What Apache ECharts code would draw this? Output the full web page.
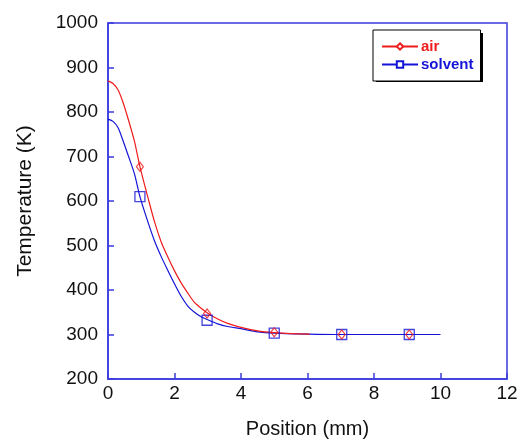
<!DOCTYPE html>
<html><head><meta charset="utf-8">
<script src="https://cdn.jsdelivr.net/npm/echarts@6/dist/echarts.min.js"></script>
<style>html,body{margin:0;padding:0;background:#fff}#c{width:525px;height:444px}</style>
</head><body><div id="c"></div>
<script>
const xTicks = [0, 2, 4, 6, 8, 10, 12];
const yTicks = [200, 300, 400, 500, 600, 700, 800, 900, 1000];

const airCurveX = [0, 0.15, 0.3, 0.45, 0.6, 0.8, 0.96, 1.2, 1.4, 1.6, 1.8, 2.0, 2.2, 2.4, 2.6, 2.8, 3.0, 3.3, 3.6, 4.0, 4.5, 5.0, 5.5, 6.07];
const airCurveY = [870, 864, 850, 822, 786, 733, 677, 608, 553, 508, 474, 443, 416, 393, 372, 359, 348, 335, 325, 316, 308, 304, 302, 301];

const solventCurveX = [0, 0.15, 0.3, 0.45, 0.6, 0.8, 0.96, 1.2, 1.4, 1.6, 1.8, 2.0, 2.2, 2.4, 2.6, 2.8, 3.0, 3.3, 3.6, 4.0, 4.5, 5.0, 6.0, 7.0, 8.0, 9.0, 10.0];
const solventCurveY = [784, 779, 765, 736, 704, 660, 610, 553, 510, 475, 444, 414, 386, 364, 350, 340, 333, 324, 318, 313, 306, 303, 301, 300, 300, 300, 300];

const markerX = [0.96, 2.98, 5, 7.03, 9.06];
const airMarkers = [677, 347, 305, 300, 300];
const solventMarkers = [610, 332, 303, 300, 300];

const FONT = 'Liberation Sans, Arial, sans-serif';
const AXIS_BLUE = '#3a3ae0';
const RED = '#ee1c1c';
const BLUE = '#1414d8';

const zip = (xs, ys) => xs.map((x, i) => [x, ys[i]]);

const chart = echarts.init(document.getElementById('c'));
chart.setOption({
  animation: false,
  backgroundColor: '#fff',
  grid: { left: 108, top: 23, right: 18, bottom: 64, show: true, borderColor: AXIS_BLUE, borderWidth: 1.5, backgroundColor: 'transparent' },
  graphic: [
    { type: 'rect', left: 376, top: 33, shape: { width: 107, height: 49 }, style: { fill: '#000' }, z: 100 }
  ],
  legend: {
    orient: 'vertical', left: 373, top: 30, z: 200,
    padding: [9, 7, 9, 8],
    itemWidth: 36, itemHeight: 8, itemGap: 3,
    backgroundColor: '#fff', borderColor: '#000', borderWidth: 1,
    textStyle: { fontFamily: FONT, fontSize: 15, fontWeight: 'bold', lineHeight: 14, padding: [0, 0, 0, -2] },
    data: [
      { name: 'air', textStyle: { color: RED } },
      { name: 'solvent', textStyle: { color: BLUE } }
    ]
  },
  xAxis: {
    type: 'value', min: xTicks[0], max: xTicks[xTicks.length - 1], interval: 2,
    name: 'Position (mm)', nameLocation: 'middle', nameGap: 40,
    nameTextStyle: { fontFamily: FONT, fontSize: 20, color: '#111' },
    axisLine: { show: true, lineStyle: { color: AXIS_BLUE, width: 1.5 } },
    axisTick: { show: true, inside: true, length: 6, lineStyle: { color: AXIS_BLUE, width: 1.5 } },
    axisLabel: { fontFamily: FONT, fontSize: 19, color: '#111', margin: 5, formatter: v => String(v) },
    splitLine: { show: false }
  },
  yAxis: {
    type: 'value', min: yTicks[0], max: yTicks[yTicks.length - 1], interval: 100,
    name: 'Temperature (K)', nameLocation: 'middle', nameGap: 72, nameRotate: 90,
    nameTextStyle: { fontFamily: FONT, fontSize: 21, color: '#111' },
    axisLine: { show: true, lineStyle: { color: AXIS_BLUE, width: 1.5 } },
    axisTick: { show: true, inside: true, length: 6, lineStyle: { color: AXIS_BLUE, width: 1.5 } },
    axisLabel: { fontFamily: FONT, fontSize: 19, color: '#111', margin: 10, formatter: v => String(v) },
    splitLine: { show: false }
  },
  series: [
    {
      name: 'air', type: 'line', data: zip(airCurveX, airCurveY), smooth: 0.25,
      symbol: 'emptyDiamond', showSymbol: false,
      lineStyle: { color: RED, width: 1.2 }, itemStyle: { color: RED }, z: 3
    },
    {
      name: 'solvent', type: 'line', data: zip(solventCurveX, solventCurveY), smooth: 0.25,
      symbol: 'emptyRect', showSymbol: false,
      lineStyle: { color: BLUE, width: 1.2 }, itemStyle: { color: BLUE }, z: 2
    },
    {
      name: 'airMarks', type: 'scatter', data: zip(markerX, airMarkers),
      symbol: 'diamond', symbolSize: [7, 9],
      itemStyle: { color: 'transparent', borderColor: RED, borderWidth: 1.2 }, z: 5
    },
    {
      name: 'solventMarks', type: 'scatter', data: zip(markerX, solventMarkers),
      symbol: 'rect', symbolSize: 10,
      itemStyle: { color: 'transparent', borderColor: BLUE, borderWidth: 1.3 }, z: 4
    }
  ]
});
</script></body></html>
